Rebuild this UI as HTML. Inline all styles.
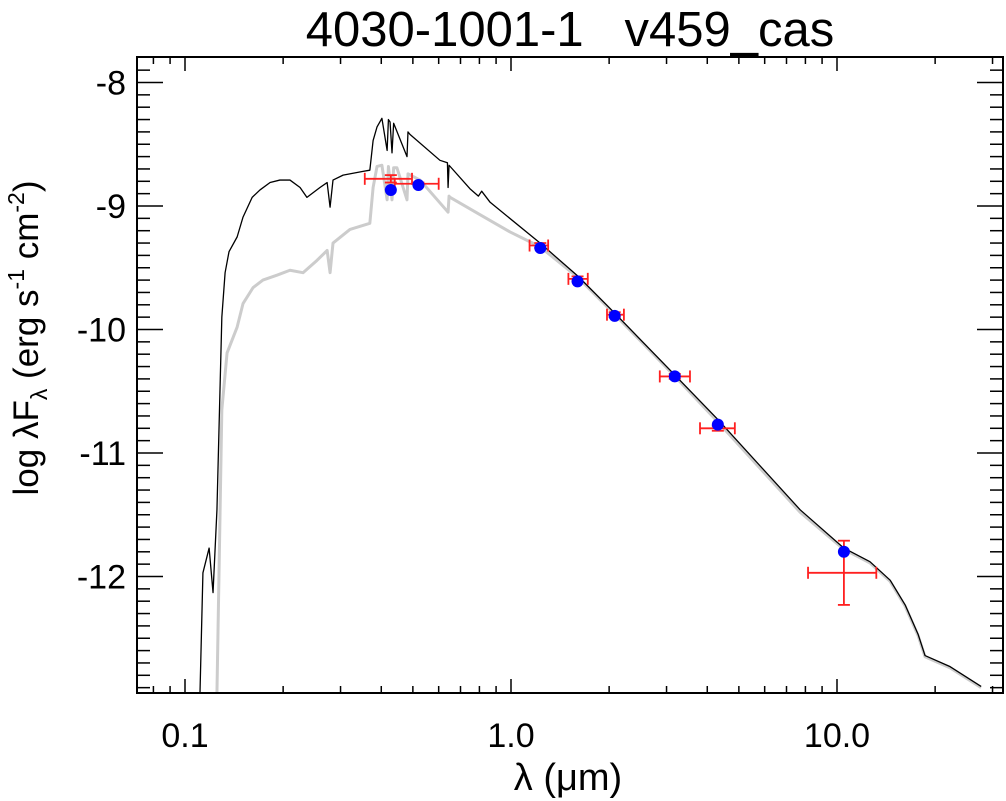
<!DOCTYPE html>
<html><head><meta charset="utf-8"><style>
body{margin:0;background:#fff;}
svg{display:block;font-family:"Liberation Sans",sans-serif;}
</style></head><body>
<svg id="c" width="1006" height="801" viewBox="0 0 1006 801">
<text x="570" y="46" font-size="49" text-anchor="middle" style="white-space:pre" xml:space="preserve">4030-1001-1   v459_cas</text>
<text x="568" y="790" font-size="38" text-anchor="middle">λ (μm)</text>
<text transform="translate(38,338) rotate(-90)" font-size="35" text-anchor="middle">log λF<tspan font-size="23" dy="9">λ</tspan><tspan dy="-9"> (erg s</tspan><tspan font-size="23" dy="-14">-1</tspan><tspan dy="14"> cm</tspan><tspan font-size="23" dy="-14">-2</tspan><tspan dy="14">)</tspan></text>
<g id="ticks"></g>
<defs><clipPath id="pc"><rect x="137" y="57" width="866" height="636"/></clipPath></defs>
<g id="plot" clip-path="url(#pc)"></g>
<rect x="137" y="57" width="866" height="636" fill="none" stroke="#000" stroke-width="2"/>
</svg>
<script>
// model spectra (log10 lambda [um], log lambdaF)
const blackLogLam=[-0.954,-0.945,-0.926,-0.914,-0.902,-0.887,-0.877,-0.865,-0.840,-0.822,-0.794,-0.770,-0.739,-0.709,-0.678,-0.647,-0.626,-0.586,-0.564,-0.555,-0.546,-0.515,-0.454,-0.433,-0.423,-0.411,-0.396,-0.380,-0.376,-0.371,-0.365,-0.360,-0.319,-0.316,-0.310,-0.218,-0.195,-0.193,-0.190,-0.126,-0.100,-0.090,-0.064,0.089,0.206,0.319,0.503,0.635,0.887,1.021,1.101,1.163,1.209,1.249,1.270,1.347,1.442];
const blackLogF=[-12.94,-11.97,-11.77,-12.13,-11.46,-9.90,-9.54,-9.37,-9.25,-9.09,-8.93,-8.87,-8.81,-8.79,-8.79,-8.85,-8.93,-8.85,-8.81,-9.01,-8.79,-8.75,-8.72,-8.71,-8.47,-8.36,-8.29,-8.55,-8.30,-8.32,-8.57,-8.33,-8.60,-8.40,-8.42,-8.63,-8.65,-8.85,-8.67,-8.86,-8.92,-8.88,-8.97,-9.30,-9.57,-9.87,-10.37,-10.73,-11.46,-11.77,-11.88,-12.03,-12.23,-12.47,-12.64,-12.73,-12.89];
const grayLogLam=[-0.902,-0.887,-0.871,-0.840,-0.822,-0.791,-0.761,-0.718,-0.678,-0.638,-0.595,-0.564,-0.555,-0.546,-0.494,-0.433,-0.423,-0.411,-0.396,-0.380,-0.376,-0.365,-0.360,-0.350,-0.319,-0.316,-0.279,-0.193,-0.190,-0.187,-0.095,-0.003,0.089,0.206,0.319,0.503,0.635,0.887,1.021,1.101,1.163,1.209,1.249,1.270,1.347,1.442];
const grayLogF=[-12.94,-10.65,-10.19,-9.98,-9.79,-9.66,-9.60,-9.56,-9.52,-9.54,-9.44,-9.36,-9.54,-9.30,-9.19,-9.14,-8.85,-8.68,-8.67,-8.95,-8.68,-8.95,-8.69,-8.69,-8.95,-8.74,-8.79,-9.05,-8.92,-8.93,-9.07,-9.21,-9.33,-9.58,-9.88,-10.38,-10.75,-11.48,-11.78,-11.89,-12.04,-12.24,-12.48,-12.65,-12.74,-12.90];
// photometry
const photLam=[0.428,0.52,1.23,1.60,2.08,3.18,4.31,10.5];
const photModel=[-8.87,-8.83,-9.34,-9.61,-9.89,-10.38,-10.77,-11.80];
const obsF=[-8.78,-8.82,-9.32,-9.59,-9.88,-10.38,-10.80,-11.97];
const obsErr=[0.03,0.01,0.02,0.02,0.02,0.02,0.02,0.26];
const lamLo=[0.356,0.44,1.14,1.50,1.97,2.86,3.80,8.15];
const lamHi=[0.497,0.60,1.30,1.72,2.22,3.54,4.86,13.2];
const xTickVals=[0.1,1,10];
const xTickLabels=["0.1","1.0","10.0"];
const yTickVals=[-8,-9,-10,-11,-12];
const yTickLabels=["-8","-9","-10","-11","-12"];

const L=137,R=1003,T=57,B=693;
const X=v=>185+(Math.log10(v)+1)*326;
const XL=l=>185+(l+1)*326;
const Y=f=>206+(-9-f)*123.5;
const NS="http://www.w3.org/2000/svg";
function mk(tag,attrs,parent){const e=document.createElementNS(NS,tag);for(const k in attrs)e.setAttribute(k,attrs[k]);parent.appendChild(e);return e;}
const tg=document.getElementById('ticks'),pg=document.getElementById('plot');

// x ticks
for(let d=-2;d<=1;d++){for(let m=1;m<=9;m++){const v=m*Math.pow(10,d);const x=X(v);if(x<L+1||x>R-1)continue;const len=m===1?14:7;
 const t1=mk('line',{x1:x,x2:x,y1:B,y2:B-len,stroke:'#000','stroke-width':1.5},tg);
 
 
 const t2=mk('line',{x1:x,x2:x,y1:T,y2:T+len,stroke:'#000','stroke-width':1.5},tg);
 
 }}
xTickVals.forEach((v,i)=>{const t=mk('text',{x:X(v),y:747,'font-size':34,'text-anchor':'middle'},tg);t.textContent=xTickLabels[i];
 
 });
// y ticks
for(let k=-130;k<=-78;k++){const f=k/10;const y=Y(f);if(y<T+1||y>B-1)continue;const len=(k%10===0)?26:13;
 const t1=mk('line',{x1:L,x2:L+len,y1:y,y2:y,stroke:'#000','stroke-width':1.5},tg);
 
 
 const t2=mk('line',{x1:R,x2:R-len,y1:y,y2:y,stroke:'#000','stroke-width':1.5},tg);
 
 }
yTickVals.forEach((v,i)=>{const t=mk('text',{x:126,y:Y(v)+12,'font-size':34,'text-anchor':'end'},tg);t.textContent=yTickLabels[i];
 
 });

// curves
const gp=mk('polyline',{points:grayLogLam.map((l,i)=>XL(l)+','+Y(grayLogF[i])).join(' '),fill:'none',stroke:'#cccccc','stroke-width':3,'stroke-linejoin':'round'},pg);


const bp=mk('polyline',{points:blackLogLam.map((l,i)=>XL(l)+','+Y(blackLogF[i])).join(' '),fill:'none',stroke:'#000','stroke-width':1.3,'stroke-linejoin':'round'},pg);



// error bars
photLam.forEach((l,i)=>{const x=X(l),y=Y(obsF[i]);const x0=X(lamLo[i]),x1=X(lamHi[i]);const y0=Y(obsF[i]+obsErr[i]),y1=Y(obsF[i]-obsErr[i]);
 const g=mk('g',{stroke:'#ff2020','stroke-width':1.8},pg);
 
 
 mk('line',{x1:x0,x2:x1,y1:y,y2:y},g);
 mk('line',{x1:x0,x2:x0,y1:y-6,y2:y+6},g);
 mk('line',{x1:x1,x2:x1,y1:y-6,y2:y+6},g);
 mk('line',{x1:x,x2:x,y1:y0,y2:y1},g);
 mk('line',{x1:x-6,x2:x+6,y1:y0,y2:y0},g);
 mk('line',{x1:x-6,x2:x+6,y1:y1,y2:y1},g);});
// model photometry points
photLam.forEach((l,i)=>{const c=mk('circle',{cx:X(l),cy:Y(photModel[i]),r:6,fill:'#0000ff'},pg);
 
 });
</script>
</body></html>
